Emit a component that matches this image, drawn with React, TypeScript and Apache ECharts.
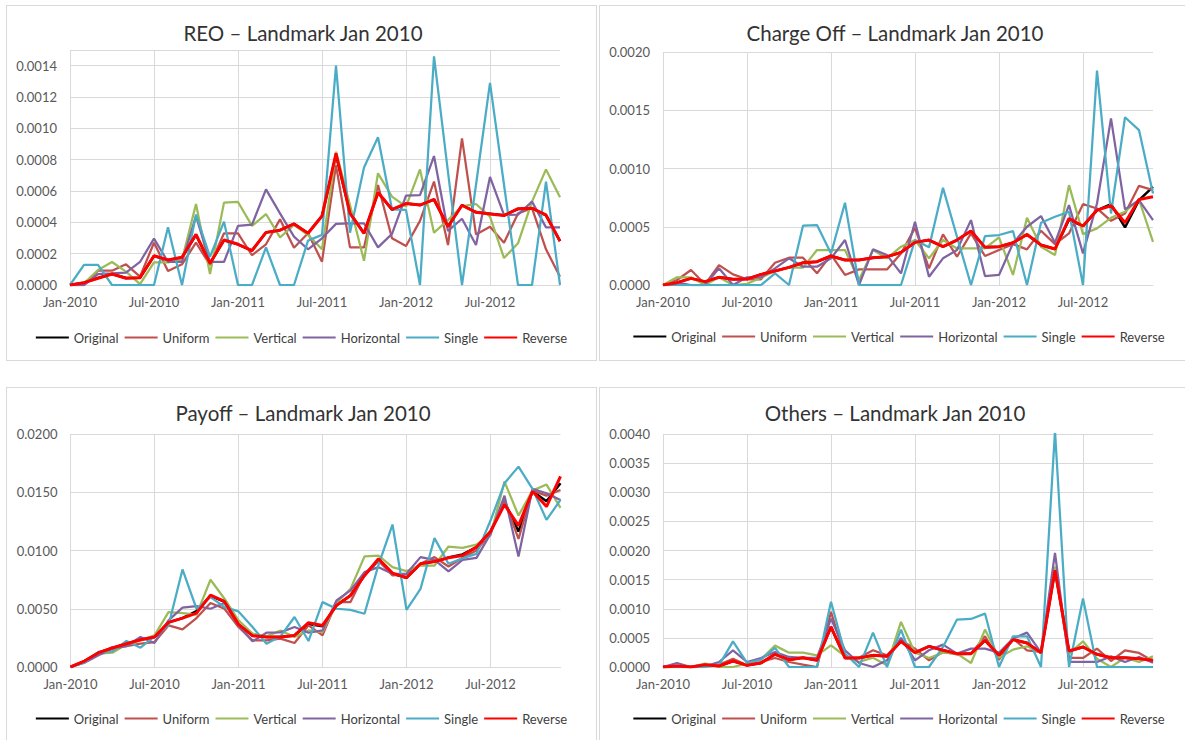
import React, { useEffect, useRef } from "react";
import * as echarts from "echarts";

const months = [
  "Jan-2010","Feb-2010","Mar-2010","Apr-2010","May-2010","Jun-2010","Jul-2010","Aug-2010","Sep-2010","Oct-2010","Nov-2010","Dec-2010",
  "Jan-2011","Feb-2011","Mar-2011","Apr-2011","May-2011","Jun-2011","Jul-2011","Aug-2011","Sep-2011","Oct-2011","Nov-2011","Dec-2011",
  "Jan-2012","Feb-2012","Mar-2012","Apr-2012","May-2012","Jun-2012","Jul-2012","Aug-2012","Sep-2012","Oct-2012","Nov-2012","Dec-2012",
];

const seriesNames = ["Original", "Uniform", "Vertical", "Horizontal", "Single", "Reverse"];
const seriesColors = ["#000000", "#C0504D", "#9BBB59", "#8064A2", "#4BACC6", "#FF0000"];
const seriesWidths = [2.5, 2.25, 2.25, 2.25, 2.25, 3];

// ---------- REO ----------
const reoOriginal = [0, 0.000015, 0.000045, 0.00007, 0.000045, 0.000047, 0.000185, 0.00016, 0.000175, 0.00032, 0.00014, 0.000285, 0.00026, 0.00022, 0.000335, 0.00035, 0.00039, 0.00033, 0.00044, 0.00083, 0.00046, 0.00033, 0.00059, 0.00048, 0.00052, 0.00051, 0.000545, 0.000375, 0.00051, 0.000465, 0.000455, 0.000445, 0.000485, 0.00049, 0.000445, 0.00028];
const reoUniform = [0, 0, 0.000091, 0.000091, 0.000132, 0.000053, 0.00027, 0.000089, 0.000132, 0.00027, 0.000128, 0.00033, 0.00033, 0.00019, 0.00026, 0.000419, 0.000238, 0.00033, 0.000149, 0.000766, 0.00024, 0.00024, 0.000638, 0.000298, 0.000249, 0.000409, 0.00066, 0.000255, 0.000936, 0.000323, 0.000372, 0.00027, 0.000457, 0.00049, 0.000228, 0.000053];
const reoVertical = [0, 0.00001, 0.000096, 0.000147, 0.000085, 0.000006, 0.000145, 0.000145, 0.00016, 0.000517, 0.00007, 0.000526, 0.00053, 0.000377, 0.000453, 0.000304, 0.000383, 0.00032, 0.000228, 0.00085, 0.00051, 0.000155, 0.000713, 0.000564, 0.0005, 0.000738, 0.000334, 0.000415, 0.000504, 0.000517, 0.000436, 0.000172, 0.000266, 0.000532, 0.000738, 0.00056];
const reoHorizontal = [0, 0, 0.00007, 0.000074, 0.000079, 0.000147, 0.000296, 0.000147, 0.000147, 0.00044, 0.000147, 0.000147, 0.000377, 0.000385, 0.00061, 0.000457, 0.000309, 0.000228, 0.000298, 0.00039, 0.000394, 0.000394, 0.00024, 0.000326, 0.00057, 0.000574, 0.000823, 0.000345, 0.000423, 0.000255, 0.00069, 0.000447, 0.000449, 0.000532, 0.000368, 0.000368];
const reoSingle = [0, 0.000128, 0.000128, 0, 0, 0, 0, 0.000368, 0, 0.00045, 0.00018, 0.000404, 0, 0, 0.00024, 0, 0, 0.000283, 0.00032, 0.0014, 0.000334, 0.00075, 0.000943, 0.000483, 0.000479, 0, 0.00146, 0.00072, 0, 0.00064, 0.00129, 0.00064, 0, 0, 0.00066, 0];
const reoReverse = [0, 0.000015, 0.000043, 0.00007, 0.000043, 0.000047, 0.000187, 0.00016, 0.000177, 0.000323, 0.000138, 0.000287, 0.00026, 0.00022, 0.000336, 0.00035, 0.00039, 0.00033, 0.00044, 0.00084, 0.000457, 0.00033, 0.00059, 0.000483, 0.00052, 0.00051, 0.000547, 0.000372, 0.000509, 0.000464, 0.000453, 0.000443, 0.000487, 0.00049, 0.000447, 0.00028];

// ---------- Charge Off ----------
const coOriginal = [0, 0.00002, 0.000057, 0.000029, 0.000066, 0.000049, 0.000051, 0.000091, 0.00012, 0.000151, 0.000191, 0.0002, 0.000249, 0.000214, 0.000214, 0.000234, 0.000243, 0.00028, 0.000366, 0.000386, 0.000329, 0.000386, 0.000463, 0.000323, 0.000329, 0.000363, 0.000434, 0.000343, 0.000309, 0.00056, 0.000506, 0.00064, 0.000694, 0.000494, 0.000729, 0.000843];
const coUniform = [0, 0.000043, 0.000129, 0.000006, 0.000171, 0.000091, 0.000049, 0.000049, 0.000191, 0.000234, 0.000234, 0.0001, 0.00026, 0.000086, 0.000134, 0.000134, 0.000134, 0.000271, 0.00049, 0.000143, 0.000434, 0.000243, 0.000443, 0.000249, 0.0003, 0.000351, 0.000306, 0.000466, 0.000351, 0.000443, 0.000694, 0.000657, 0.000551, 0.000614, 0.000851, 0.000814];
const coVertical = [0, 0.000066, 0.000066, 0, 0.000066, 0, 0.00001, 0.000063, 0.00012, 0.000149, 0.000149, 0.0003, 0.0003, 0.0003, 0.000043, 0.0003, 0.000229, 0.000329, 0.000386, 0.000229, 0.000386, 0.000314, 0.000314, 0.000314, 0.000409, 0.000086, 0.000577, 0.000329, 0.000257, 0.000857, 0.000437, 0.000486, 0.000577, 0.000629, 0.000734, 0.000371];
const coHorizontal = [0, 0.00002, 0, 0, 0.000143, 0, 0.000066, 0.000066, 0.000143, 0.000229, 0.000157, 0.000157, 0.000229, 0.000386, 0, 0.000306, 0.000257, 0.0001, 0.000543, 0.000071, 0.000229, 0.0003, 0.000557, 0.000077, 0.000086, 0.000357, 0.0005, 0.000591, 0.000363, 0.000686, 0.000271, 0.0007, 0.00143, 0.000649, 0.000729, 0.000557];
const coSingle = [0, 0, 0, 0, 0, 0, 0, 0, 0.0001, 0, 0.000509, 0.000514, 0.000271, 0.000706, 0, 0, 0, 0, 0.000386, 0.000323, 0.000834, 0.000414, 0, 0.00042, 0.000429, 0.000463, 0, 0.000534, 0.000586, 0.000629, 0, 0.00184, 0.000614, 0.00144, 0.00133, 0.000786];
const coReverse = [0, 0.00002, 0.000057, 0.000029, 0.000066, 0.000049, 0.000051, 0.000091, 0.00012, 0.000151, 0.000191, 0.0002, 0.000249, 0.000214, 0.000214, 0.000234, 0.000243, 0.00028, 0.000366, 0.000386, 0.000329, 0.000386, 0.000463, 0.000323, 0.000329, 0.000363, 0.000434, 0.000343, 0.000309, 0.000571, 0.000506, 0.000643, 0.00068, 0.000534, 0.000734, 0.000757];

// ---------- Payoff ----------
const poOriginal = [0, 0.00051, 0.00123, 0.00163, 0.002, 0.00234, 0.00257, 0.00383, 0.0042, 0.0048, 0.0061, 0.0056, 0.00366, 0.00269, 0.00257, 0.00257, 0.00271, 0.0037, 0.0035, 0.00529, 0.00614, 0.00786, 0.00914, 0.008, 0.00766, 0.00886, 0.00906, 0.0094, 0.00966, 0.01029, 0.01163, 0.0142, 0.01163, 0.01509, 0.01423, 0.01577];
const poUniform = [0, 0.00043, 0.00114, 0.00171, 0.0018, 0.002, 0.00214, 0.00357, 0.00323, 0.0042, 0.00549, 0.005, 0.00343, 0.00229, 0.00229, 0.00243, 0.00206, 0.00357, 0.00271, 0.00557, 0.00557, 0.008, 0.00914, 0.00786, 0.00794, 0.00886, 0.00943, 0.00863, 0.00937, 0.01, 0.01149, 0.01429, 0.011, 0.01514, 0.01471, 0.0152];
const poVertical = [0, 0.00043, 0.00114, 0.00123, 0.00194, 0.00229, 0.00271, 0.00471, 0.00463, 0.00449, 0.00749, 0.00586, 0.004, 0.00286, 0.00263, 0.00314, 0.00257, 0.00314, 0.003, 0.00549, 0.00671, 0.00949, 0.00957, 0.00857, 0.00823, 0.00871, 0.00871, 0.01034, 0.01023, 0.01051, 0.01129, 0.01591, 0.013, 0.01514, 0.01566, 0.01366];
const poHorizontal = [0, 0.00037, 0.001, 0.00157, 0.0018, 0.00257, 0.00206, 0.004, 0.00509, 0.00523, 0.005, 0.00549, 0.00357, 0.0022, 0.00294, 0.00297, 0.00343, 0.00294, 0.00314, 0.00571, 0.00657, 0.00814, 0.00857, 0.008, 0.008, 0.00943, 0.0092, 0.0082, 0.0092, 0.00937, 0.01143, 0.01471, 0.00949, 0.01529, 0.01491, 0.01434];
const poSingle = [0, 0.00037, 0.00129, 0.00134, 0.00223, 0.00166, 0.00263, 0.00357, 0.00837, 0.005, 0.006, 0.00514, 0.00477, 0.00343, 0.002, 0.00263, 0.00429, 0.00223, 0.00557, 0.005, 0.00491, 0.00457, 0.00877, 0.01223, 0.00491, 0.00671, 0.01106, 0.00886, 0.00934, 0.00971, 0.01257, 0.01577, 0.0172, 0.01529, 0.01263, 0.01434];
const poReverse = [0, 0.00051, 0.00123, 0.00163, 0.002, 0.00234, 0.00257, 0.00383, 0.0042, 0.00463, 0.00617, 0.00563, 0.00366, 0.00269, 0.00257, 0.00257, 0.00271, 0.0038, 0.00357, 0.00529, 0.00614, 0.00786, 0.00929, 0.00806, 0.00766, 0.00886, 0.00906, 0.00937, 0.00957, 0.01029, 0.01163, 0.01394, 0.01214, 0.01509, 0.01377, 0.01637];

// ---------- Others ----------
const otOriginal = [0, 0.000017, 0, 0.00004, 0.000017, 0.000103, 0.000029, 0.000069, 0.000218, 0.000126, 0.00016, 0.000115, 0.000688, 0.000155, 0.000155, 0.0002, 0.000183, 0.000441, 0.000246, 0.000355, 0.000287, 0.000229, 0.000229, 0.000458, 0.0002, 0.00047, 0.000413, 0.000246, 0.00166, 0.000275, 0.000344, 0.000218, 0.00016, 0.00016, 0.000143, 0.000115];
const otUniform = [0, 0.000017, 0, 0.000029, 0.00004, 0.000143, 0.000029, 0.000086, 0.000155, 0.000086, 0.00004, 0, 0.000946, 0.000155, 0.00016, 0.000287, 0.0002, 0.000458, 0.000315, 0.000115, 0.000258, 0.000218, 0.000229, 0.000527, 0.000126, 0.000487, 0.000287, 0.000258, 0.00172, 0.000155, 0.000155, 0.000315, 0.000103, 0.000287, 0.000241, 0.000103];
const otVertical = [0, 0, 0, 0.000057, 0, 0, 0.000057, 0.000132, 0.000367, 0.000246, 0.000246, 0.0002, 0.000372, 0.000189, 0.000086, 0.00016, 0.00003, 0.000774, 0.000246, 0.000155, 0.000246, 0.000229, 0.000069, 0.000642, 0.00016, 0.000298, 0.000355, 0.000246, 0.00172, 0.000229, 0.000441, 0.000143, 0, 0.00016, 0.000086, 0.000183];
const otHorizontal = [0, 0.000069, 0, 0.00001, 0.000086, 0.000287, 0.000086, 0.000155, 0.000258, 0.000172, 0.000155, 0.000155, 0.000831, 0.000287, 0.000069, 0, 0.000115, 0.0005, 0.000115, 0.000287, 0.000384, 0.000229, 0.000315, 0.000315, 0.000246, 0.000487, 0.00059, 0.000246, 0.00196, 0.000086, 0.000086, 0.000086, 0.000183, 0.000086, 0.000172, 0.000074];
const otSingle = [0, 0, 0, 0, 0.000029, 0.000441, 0.000069, 0.000126, 0.000327, 0, 0, 0, 0.00112, 0.000229, 0, 0.00059, 0, 0.000642, 0, 0, 0.000344, 0.000814, 0.000825, 0.000917, 0, 0.000527, 0.000527, 0, 0.00405, 0, 0.001175, 0, 0, 0, 0, 0];
const otReverse = [0, 0.000017, 0, 0.00004, 0.000017, 0.000103, 0.000029, 0.000069, 0.000218, 0.000126, 0.00016, 0.000115, 0.000688, 0.000155, 0.000155, 0.0002, 0.000183, 0.000441, 0.000246, 0.000355, 0.000287, 0.000229, 0.000229, 0.000458, 0.0002, 0.00047, 0.000413, 0.000246, 0.00166, 0.000275, 0.000344, 0.000218, 0.00016, 0.00016, 0.000143, 0.000115];

const FONT = "Lato, 'Liberation Sans', sans-serif";
const GRID_COLOR = "#D9D9D9";
const TEXT_COLOR = "#595959";

type PanelProps = {
  title: string;
  left: number;
  top: number;
  width: number;
  height: number;
  titleX: number;
  titleY: number;
  gridLeft: number;
  gridTop: number;
  gridHeight: number;
  legendTop: number;
  yMax: number;
  yInterval: number;
  data: number[][];
};

function Panel(p: PanelProps) {
  const ref = useRef<HTMLDivElement>(null);
  useEffect(() => {
    if (!ref.current) return;
    const chart = echarts.init(ref.current, null, { renderer: "svg" });
    chart.setOption({
      animation: false,
      backgroundColor: "#ffffff",
      grid: { left: p.gridLeft, top: p.gridTop, width: 490, height: p.gridHeight, containLabel: false },
      graphic: [
        {
          type: "text",
          x: p.titleX,
          y: p.titleY,
          style: {
            text: p.title,
            fontSize: 20.5,
            fontFamily: FONT,
            fill: "#333333",
            textAlign: "center",
            textVerticalAlign: "middle",
          },
        },
      ],
      legend: {
        data: seriesNames,
        left: "center",
        top: p.legendTop,
        icon: "rect",
        itemWidth: 33,
        itemHeight: 2,
        itemGap: 6,
        textStyle: { fontFamily: FONT, fontSize: 13, color: "#404040" },
      },
      xAxis: {
        type: "category",
        data: months,
        boundaryGap: false,
        axisLine: { show: true, lineStyle: { color: GRID_COLOR, width: 1 } },
        axisTick: { show: false },
        axisLabel: { interval: 5, fontFamily: FONT, fontSize: 13, color: TEXT_COLOR, margin: 10 },
        splitLine: { show: true, interval: 5, lineStyle: { color: GRID_COLOR, width: 1 } },
      },
      yAxis: {
        type: "value",
        min: 0,
        max: p.yMax,
        interval: p.yInterval,
        axisLine: { show: false },
        axisTick: { show: false },
        axisLabel: {
          fontFamily: FONT,
          fontSize: 13,
          color: TEXT_COLOR,
          margin: 13,
          showMaxLabel: p.yMax / p.yInterval === Math.round(p.yMax / p.yInterval),
          formatter: (v: number) => v.toFixed(4),
        },
        splitLine: { show: true, lineStyle: { color: GRID_COLOR, width: 1 } },
      },
      series: seriesNames.map((name, i) => ({
        type: "line",
        name,
        data: p.data[i],
        symbol: "none",
        showSymbol: false,
        clip: true,
        z: 2 + i,
        lineStyle: { color: seriesColors[i], width: seriesWidths[i] },
        itemStyle: { color: seriesColors[i] },
      })),
    });
    return () => chart.dispose();
  }, []);
  return (
    <>
      <div
        ref={ref}
        style={{ position: "absolute", left: p.left, top: p.top, width: p.width, height: p.height }}
      />
      <div
        style={{
          position: "absolute",
          left: p.left,
          top: p.top,
          width: p.width,
          height: p.height,
          border: "1px solid #D9D9D9",
          boxSizing: "border-box",
          pointerEvents: "none",
        }}
      />
    </>
  );
}

export default function App() {
  return (
    <div
      style={{
        position: "fixed",
        left: 0,
        top: 0,
        width: 1185,
        height: 740,
        background: "#ffffff",
        overflow: "hidden",
      }}
    >
      <Panel
        title="REO – Landmark Jan 2010"
        left={6} top={5} width={591} height={356}
        titleX={297} titleY={28}
        gridLeft={64} gridTop={45} gridHeight={235} legendTop={321}
        yMax={0.0015} yInterval={0.0002}
        data={[reoOriginal, reoUniform, reoVertical, reoHorizontal, reoSingle, reoReverse]}
      />
      <Panel
        title="Charge Off – Landmark Jan 2010"
        left={599} top={5} width={600} height={356}
        titleX={296} titleY={28}
        gridLeft={64} gridTop={47} gridHeight={233} legendTop={320}
        yMax={0.002} yInterval={0.0005}
        data={[coOriginal, coUniform, coVertical, coHorizontal, coSingle, coReverse]}
      />
      <Panel
        title="Payoff – Landmark Jan 2010"
        left={6} top={387} width={591} height={360}
        titleX={297} titleY={26}
        gridLeft={64.5} gridTop={47} gridHeight={233} legendTop={320}
        yMax={0.02} yInterval={0.005}
        data={[poOriginal, poUniform, poVertical, poHorizontal, poSingle, poReverse]}
      />
      <Panel
        title="Others – Landmark Jan 2010"
        left={599} top={387} width={600} height={360}
        titleX={296} titleY={26}
        gridLeft={64} gridTop={47} gridHeight={233} legendTop={320}
        yMax={0.004} yInterval={0.0005}
        data={[otOriginal, otUniform, otVertical, otHorizontal, otSingle, otReverse]}
      />
    </div>
  );
}
